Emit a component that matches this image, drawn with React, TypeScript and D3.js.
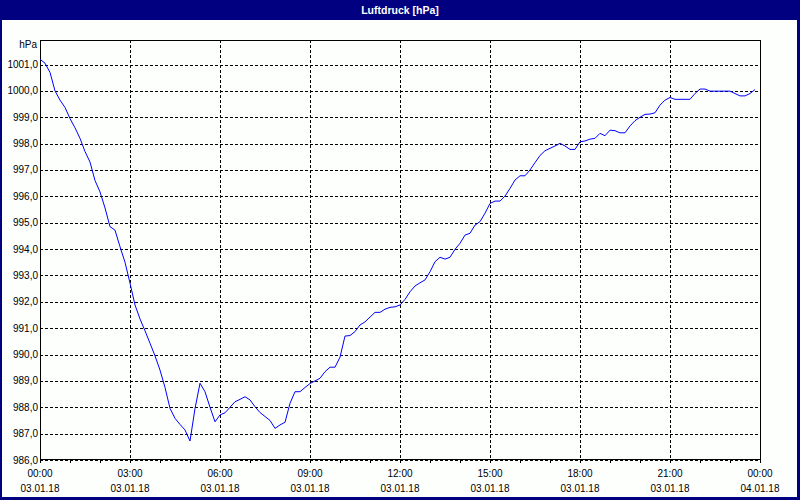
import React from "react";
import * as d3 from "d3";

// Pressure readings every 10 minutes, 03.01.18 00:00 – 23:50
const pressure: number[] = [
  1001.2, 1001.05, 1000.7, 1000.0, 999.65, 999.37, 998.95, 998.6, 998.2, 997.7,
  997.3, 996.6, 996.17, 995.56, 994.85, 994.72, 994.09, 993.5, 992.71, 991.88,
  991.35, 990.9, 990.43, 989.95, 989.41, 988.75, 987.96, 987.58, 987.35, 987.14,
  986.72, 987.95, 988.91, 988.59, 988.0, 987.45, 987.71, 987.79, 988.0, 988.21,
  988.3, 988.4, 988.28, 988.02, 987.8, 987.65, 987.5, 987.2, 987.33, 987.43,
  988.15, 988.59, 988.59, 988.75, 988.9, 989.0, 989.1, 989.35, 989.52, 989.52,
  989.9, 990.7, 990.72, 990.87, 991.12, 991.24, 991.42, 991.6, 991.6, 991.72,
  991.79, 991.81, 991.88, 992.09, 992.38, 992.6, 992.72, 992.83, 993.14, 993.52,
  993.69, 993.62, 993.69, 993.99, 994.22, 994.53, 994.6, 994.91, 995.04, 995.36,
  995.73, 995.82, 995.82, 996.01, 996.3, 996.62, 996.78, 996.78, 997.0, 997.28,
  997.55, 997.73, 997.82, 997.91, 998.01, 997.91, 997.78, 997.78, 998.07, 998.1,
  998.17, 998.2, 998.39, 998.3, 998.51, 998.49, 998.41, 998.41, 998.67, 998.87,
  999.0, 999.11, 999.12, 999.17, 999.46, 999.65, 999.75, 999.68, 999.68, 999.68,
  999.68, 999.9, 1000.07, 1000.07, 999.99, 999.99, 999.99, 999.99, 999.99, 999.9,
  999.81, 999.81, 999.9, 1000.05,
];

const yTicks: number[] = [986, 987, 988, 989, 990, 991, 992, 993, 994, 995, 996, 997, 998, 999, 1000, 1001];
const xTickHours: number[] = [0, 3, 6, 9, 12, 15, 18, 21, 24];
const xTimeLabels: string[] = ["00:00", "03:00", "06:00", "09:00", "12:00", "15:00", "18:00", "21:00", "00:00"];
const xDateLabels: string[] = ["03.01.18", "03.01.18", "03.01.18", "03.01.18", "03.01.18", "03.01.18", "03.01.18", "03.01.18", "04.01.18"];
const minorHours: number[] = d3.range(0, 25);

const title = "Luftdruck [hPa]";
const unit = "hPa";

const W = 800;
const H = 500;
const L = 40;
const R = 760;
const T = 40;
const B = 460;

export default function App() {
  const x = d3.scaleLinear().domain([0, 24]).range([L, R]);
  const y = d3.scaleLinear().domain([986, 1001.93]).range([B, T]);
  const line = d3
    .line<number>()
    .x((_, i) => x(i / 6))
    .y((d) => y(d));

  const font = "'Liberation Sans', Arial, sans-serif";
  const fmt = (v: number) => v.toFixed(1).replace(".", ",");
  const px = (v: number) => Math.round(v) + 0.5;

  return (
    <svg
      width={W}
      height={H}
      style={{ position: "fixed", left: 0, top: 0, display: "block" }}
      fontFamily={font}
    >
      <rect x={0} y={0} width={W} height={H} fill="#000080" />
      <rect x={2} y={20} width={795} height={477} fill="#fdfffd" />
      <text
        x={400}
        y={14}
        textAnchor="middle"
        fill="#ffffff"
        fontWeight="bold"
        fontSize={10.5}
      >
        {title}
      </text>

      {/* horizontal grid */}
      {yTicks.map((t) => (
        <line
          key={"h" + t}
          x1={L}
          x2={R}
          y1={px(y(t))}
          y2={px(y(t))}
          stroke="#000"
          strokeDasharray="3,2"
          shapeRendering="crispEdges"
        />
      ))}
      {/* vertical grid */}
      {xTickHours.slice(1, -1).map((h) => (
        <line
          key={"v" + h}
          x1={px(x(h))}
          x2={px(x(h))}
          y1={T}
          y2={B}
          stroke="#000"
          strokeDasharray="3,2"
          shapeRendering="crispEdges"
        />
      ))}

      {/* plot frame */}
      <rect
        x={L + 0.5}
        y={T + 0.5}
        width={R - L}
        height={B - T - 1}
        fill="none"
        stroke="#000"
        shapeRendering="crispEdges"
      />

      {/* minor ticks */}
      {minorHours.map((h) => (
        <line
          key={"m" + h}
          x1={px(x(h))}
          x2={px(x(h))}
          y1={B}
          y2={B + 3}
          stroke="#000"
          shapeRendering="crispEdges"
        />
      ))}

      {/* data line */}
      <path
        d={line(pressure) || ""}
        fill="none"
        stroke="#0000ff"
        strokeWidth={1}
      />

      {/* y labels */}
      <text x={37} y={48} textAnchor="end" fontSize={10} fill="#000">
        {unit}
      </text>
      {yTicks.map((t) => (
        <text
          key={"yl" + t}
          x={38}
          y={y(t) + 3.5}
          textAnchor="end"
          fontSize={10}
          fill="#000"
        >
          {fmt(t)}
        </text>
      ))}

      {/* x labels */}
      {xTickHours.map((h, i) => (
        <g key={"xl" + h}>
          <text x={x(h)} y={477} textAnchor="middle" fontSize={10} fill="#000">
            {xTimeLabels[i]}
          </text>
          <text x={x(h)} y={492} textAnchor="middle" fontSize={10} fill="#000">
            {xDateLabels[i]}
          </text>
        </g>
      ))}
    </svg>
  );
}
